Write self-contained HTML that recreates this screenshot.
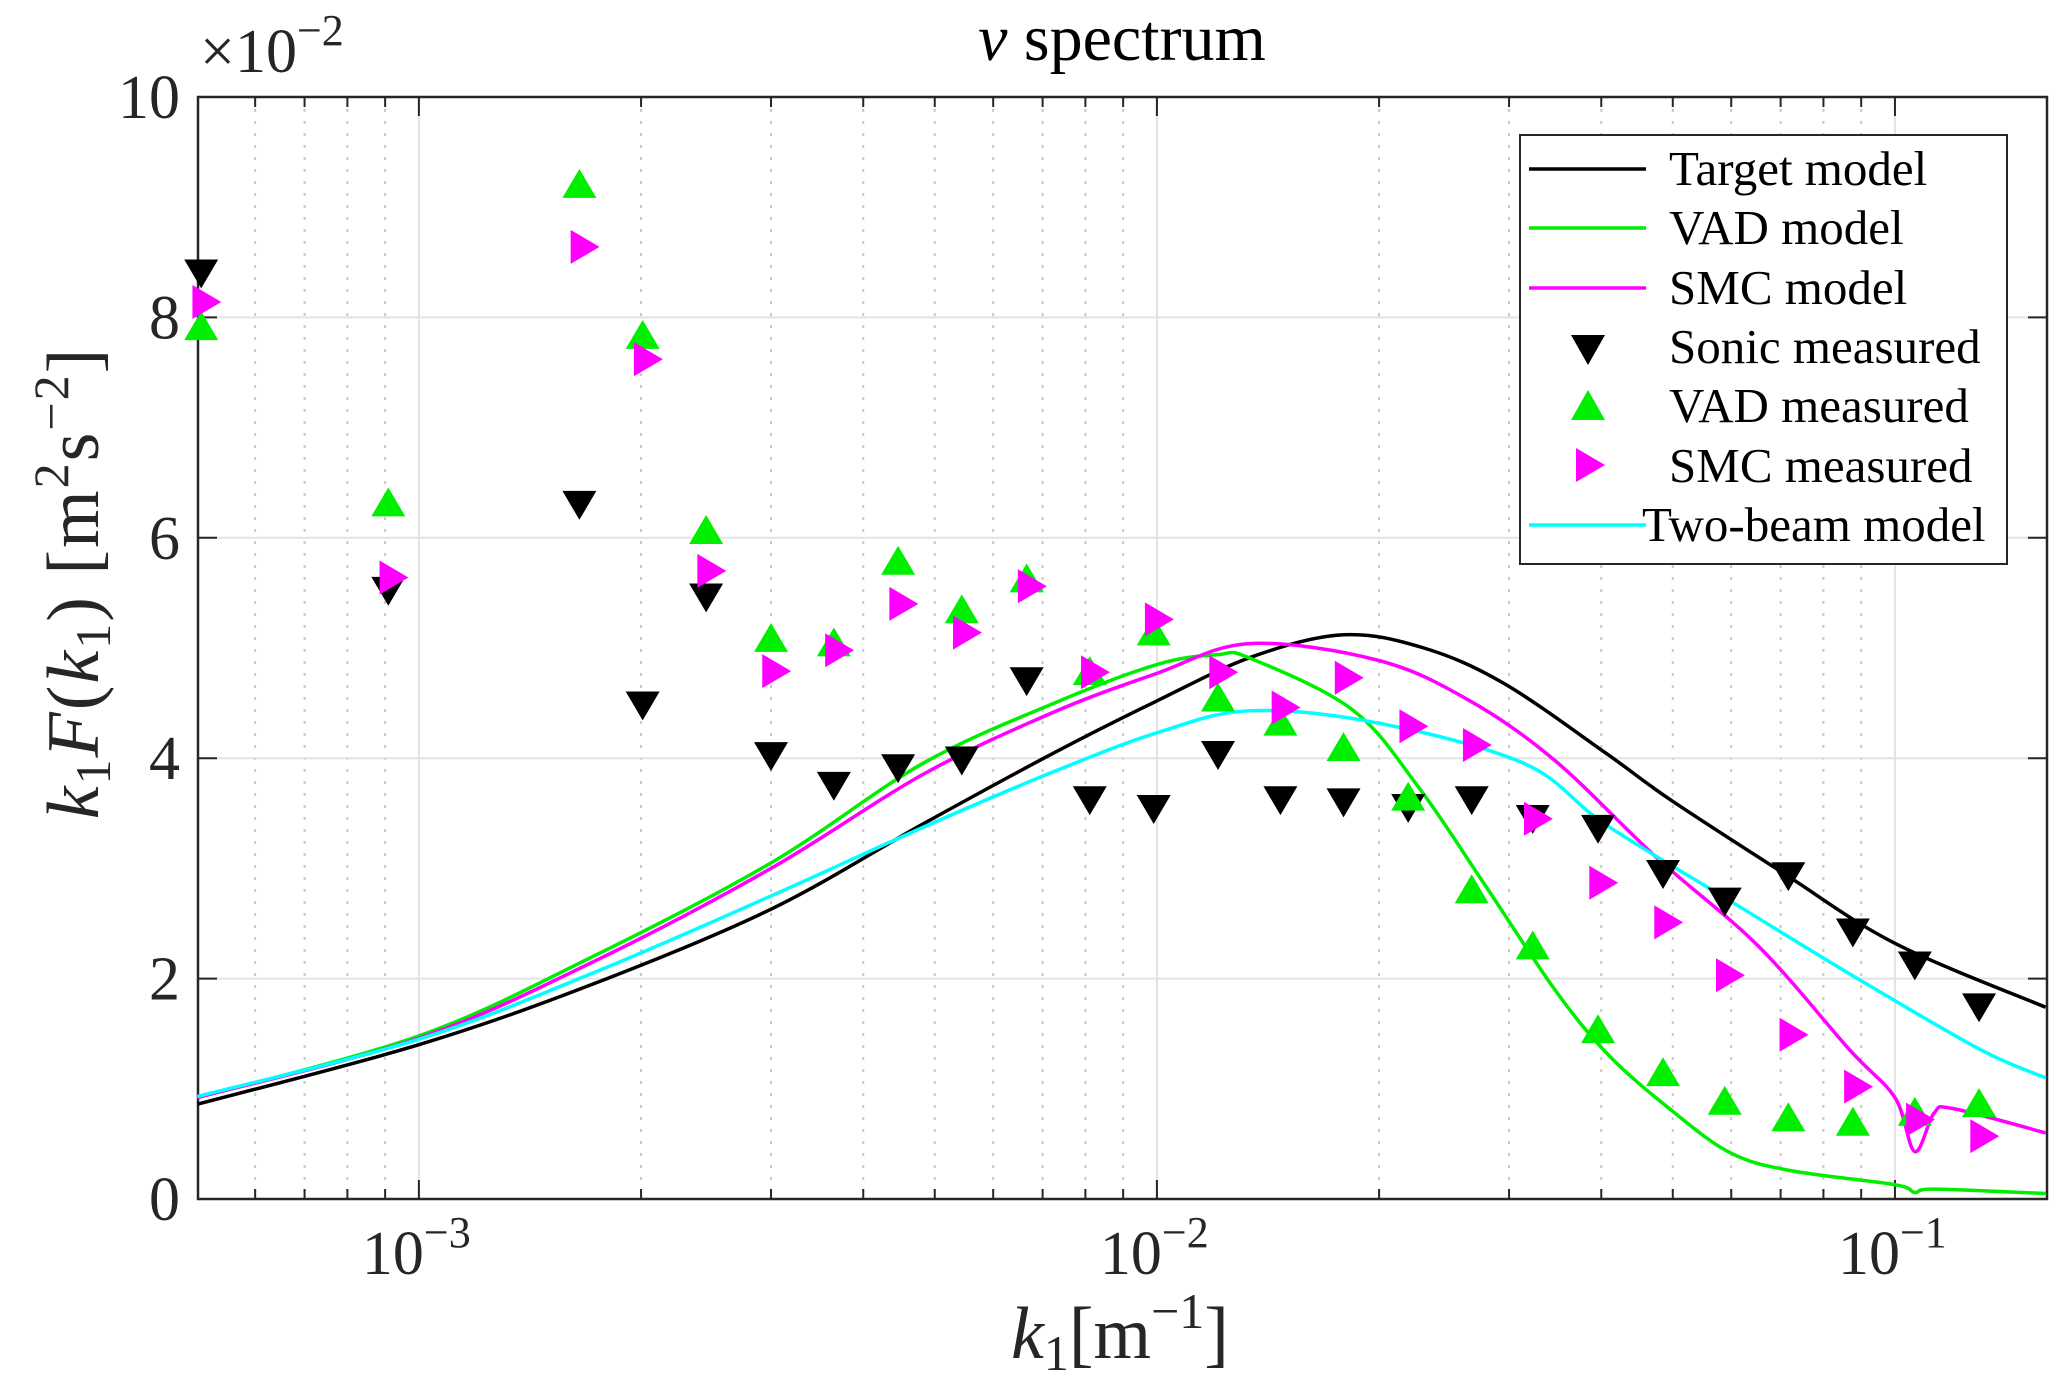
<!DOCTYPE html>
<html><head><meta charset="utf-8"><style>
html,body{margin:0;padding:0;background:#fff;}
svg{display:block;font-family:"Liberation Serif",serif;}
</style></head><body>
<svg id="chart" width="2067" height="1395" viewBox="0 0 2067 1395" xmlns="http://www.w3.org/2000/svg" style="position:absolute;left:0;top:0"></svg>
<script>
// ---- data ----
const kMeas = [5.07e-4,9.09e-4,1.65e-3,2.01e-3,2.45e-3,3.0e-3,3.65e-3,4.46e-3,5.44e-3,6.66e-3,8.11e-3,9.9e-3,1.21e-2,1.47e-2,1.79e-2,2.19e-2,2.67e-2,3.23e-2,3.96e-2,4.85e-2,5.88e-2,7.17e-2,8.77e-2,0.1064,0.130];
const sonicVals = [8.41,5.53,6.31,4.49,5.47,4.03,3.76,3.92,3.99,4.71,3.63,3.55,4.04,3.63,3.61,3.56,3.63,3.46,3.37,2.96,2.71,2.94,2.43,2.13,1.75];
const vadVals = [7.91,6.31,9.2,7.83,6.06,5.08,5.04,5.78,5.34,5.62,4.78,5.14,4.54,4.32,4.09,3.64,2.80,2.29,1.53,1.14,0.88,0.73,0.69,0.78,0.86];
const smcVals = [8.14,5.64,8.64,7.62,5.70,4.79,4.98,5.40,5.14,5.56,4.78,5.26,4.78,4.46,4.73,4.29,4.12,3.45,2.87,2.51,2.03,1.49,1.02,0.72,0.57];
const targetK = [5.01e-4,1e-3,1.72e-3,3.0e-3,4.81e-3,7.26e-3,1e-2,1.345e-2,1.79e-2,2.3e-2,2.95e-2,4.05e-2,4.97e-2,7.05e-2,0.1,0.16];
const targetVals = [0.86,1.40,1.95,2.63,3.4,4.05,4.52,4.92,5.12,5.0,4.68,4.05,3.62,2.96,2.32,1.74];
const vadK = [5.01e-4,1e-3,1.72e-3,3.0e-3,4.81e-3,7.26e-3,1e-2,1.21e-2,1.334e-2,1.84e-2,2.26e-2,2.77e-2,3.46e-2,4.1e-2,4.99e-2,5.98e-2,7.19e-2,0.1,0.1064,0.113,0.16];
const vadModelVals = [0.92,1.48,2.2,3.05,3.95,4.5,4.85,4.94,4.91,4.44,3.74,2.87,1.90,1.30,0.80,0.42,0.26,0.13,0.06,0.09,0.05];
const smcK = [5.01e-4,1e-3,1.72e-3,3.0e-3,4.81e-3,7.26e-3,1e-2,1.334e-2,1.99e-2,2.64e-2,3.46e-2,4.75e-2,6.54e-2,8.69e-2,0.1,0.1064,0.113,0.12,0.16];
const smcModelVals = [0.92,1.46,2.15,3.0,3.85,4.42,4.77,5.04,4.89,4.53,3.98,3.10,2.29,1.35,0.92,0.43,0.78,0.82,0.6];
const twoK = [5.01e-4,1e-3,1.72e-3,3.0e-3,4.81e-3,7.26e-3,1e-2,1.334e-2,1.99e-2,3.15e-2,4.05e-2,6.03e-2,8.95e-2,0.131,0.16];
const twoVals = [0.93,1.45,2.05,2.75,3.37,3.88,4.23,4.43,4.32,3.95,3.4,2.69,1.99,1.35,1.1];
const yTicks = [0,2,4,6,8,10];
const xDecades = [-3,-2,-1];

// ---- axes ----
const L=198,R=2047,T=97,B=1199;
const xmin=Math.log10(5.02e-4), xmax=Math.log10(0.1607);
const X=k=>L+(Math.log10(k)-xmin)/(xmax-xmin)*(R-L);
const Y=v=>B-(v/10)*(B-T);
const NS="http://www.w3.org/2000/svg";
const svg=document.getElementById('chart');
function mk(tag,attrs,parent){const e=document.createElementNS(NS,tag);for(const a in attrs)e.setAttribute(a,attrs[a]);(parent||svg).appendChild(e);return e;}

const grid=mk('g',{});


for(let d=-4;d<=-1;d++){for(let m=2;m<=9;m++){const k=m*Math.pow(10,d);if(k<5.02e-4||k>0.1607)continue;const x=X(k);
 mk('line',{x1:x,x2:x,y1:T,y2:B,stroke:'#c8c8c8','stroke-width':2,'stroke-dasharray':'3 9'},grid);
 mk('line',{x1:x,x2:x,y1:B,y2:B-10,stroke:'#262626','stroke-width':2},grid);
 mk('line',{x1:x,x2:x,y1:T,y2:T+10,stroke:'#262626','stroke-width':2},grid);}}
xDecades.forEach(d=>{const x=X(Math.pow(10,d));
 mk('line',{x1:x,x2:x,y1:T,y2:B,stroke:'#e3e3e3','stroke-width':2},grid);
 mk('line',{x1:x,x2:x,y1:B,y2:B-19,stroke:'#262626','stroke-width':2},grid);
 mk('line',{x1:x,x2:x,y1:T,y2:T+19,stroke:'#262626','stroke-width':2},grid);
 const t=mk('text',{x:x-57,y:1274,'font-size':62,fill:'#262626'});
 
 
 t.innerHTML='10<tspan dy="-27" font-size="44">\u2212'+(-d)+'</tspan>';
});
yTicks.forEach(v=>{const y=Y(v);
 if(v>0&&v<10)mk('line',{x1:L,x2:R,y1:y,y2:y,stroke:'#e3e3e3','stroke-width':2},grid);
 mk('line',{x1:L,x2:L+19,y1:y,y2:y,stroke:'#262626','stroke-width':2},grid);
 mk('line',{x1:R,x2:R-19,y1:y,y2:y,stroke:'#262626','stroke-width':2},grid);
 const t=mk('text',{x:180,y:y+21,'font-size':62,'text-anchor':'end',fill:'#262626'});
 
 
 t.textContent=v;
});
const box=mk('rect',{x:L,y:T,width:R-L,height:B-T,fill:'none',stroke:'#262626','stroke-width':2.5});



// ---- lines (Catmull-Rom smoothing) ----
function smooth(pts){let d='M'+pts[0][0]+','+pts[0][1];
 for(let i=0;i<pts.length-1;i++){const p0=pts[i-1]||pts[i],p1=pts[i],p2=pts[i+1],p3=pts[i+2]||p2;
  const c1=[p1[0]+(p2[0]-p0[0])/6,p1[1]+(p2[1]-p0[1])/6],c2=[p2[0]-(p3[0]-p1[0])/6,p2[1]-(p3[1]-p1[1])/6];
  d+=` C${c1[0]},${c1[1]} ${c2[0]},${c2[1]} ${p2[0]},${p2[1]}`;}
 return d;}
function line(ks,vs,color,name){const p=mk('path',{d:smooth(ks.map((k,i)=>[X(k),Y(vs[i])])),fill:'none',stroke:color,'stroke-width':3.5,'stroke-linejoin':'round'});
 
 }
line(targetK,targetVals,'#000','target-model-line');
line(vadK,vadModelVals,'#00ee00','vad-model-line');
line(smcK,smcModelVals,'#ff00ff','smc-model-line');
line(twoK,twoVals,'#00ffff','two-beam-model-line');

// ---- markers ----
const s=17;
function tri(x,y,type){if(type==='down')return `${x-s},${y-s*0.75} ${x+s},${y-s*0.75} ${x},${y+s*0.95}`;
 if(type==='up')return `${x-s},${y+s*0.75} ${x+s},${y+s*0.75} ${x},${y-s*0.95}`;
 return `${x-s*0.75},${y-s} ${x-s*0.75},${y+s} ${x+s*0.95},${y}`;}
function markers(vs,type,color,name){const g=mk('g',{});
 
 
 vs.forEach((v,i)=>{const pt=mk('polygon',{points:tri(X(kMeas[i])+(type==='right'?4:0),Y(v),type),fill:color},g);
  
  });}
markers(sonicVals,'down','#000','sonic-measured');
markers(vadVals,'up','#00ee00','vad-measured');
markers(smcVals,'right','#ff00ff','smc-measured');
</script>
<svg style="position:absolute;left:0;top:0" width="2067" height="1395">
<g font-family="Liberation Serif, serif" fill="#262626">
<text x="200" y="72" font-size="62">×10<tspan dy="-27" font-size="44">−2</tspan></text>
<text x="1122" y="60" font-size="66" text-anchor="middle" fill="#000"><tspan font-style="italic">v</tspan> spectrum</text>
<text x="1120" y="1358" font-size="74" text-anchor="middle" fill="#262626"><tspan font-style="italic">k</tspan><tspan font-size="50" dy="12">1</tspan><tspan dy="-12">[m</tspan><tspan font-size="50" dy="-30">−1</tspan><tspan dy="30">]</tspan></text>
<text transform="translate(98,583) rotate(-90)" font-size="74" text-anchor="middle" letter-spacing="2"><tspan font-style="italic">k</tspan><tspan font-size="50" dy="12">1</tspan><tspan font-style="italic" dy="-12">F</tspan>(<tspan font-style="italic">k</tspan><tspan font-size="50" dy="12">1</tspan><tspan dy="-12">) [m</tspan><tspan font-size="50" dy="-30">2</tspan><tspan dy="30">s</tspan><tspan font-size="50" dy="-30">−2</tspan><tspan dy="30">]</tspan></text>
</g>
<g>
<rect x="1520" y="135" width="487" height="429" fill="#fff" stroke="#262626" stroke-width="2"/>
<g font-family="Liberation Serif, serif" font-size="49" fill="#000">
<line x1="1529" x2="1646" y1="169" y2="169" stroke="#000" stroke-width="3.5"/><text x="1669" y="185">Target model</text>
<line x1="1529" x2="1646" y1="228" y2="228" stroke="#00ee00" stroke-width="3.5"/><text x="1669" y="244">VAD model</text>
<line x1="1529" x2="1646" y1="288" y2="288" stroke="#ff00ff" stroke-width="3.5"/><text x="1669" y="304">SMC model</text>
<polygon points="1571,335 1605,335 1588,365" fill="#000"/><text x="1669" y="363">Sonic measured</text>
<polygon points="1571,420 1605,420 1588,390" fill="#00ee00"/><text x="1669" y="422">VAD measured</text>
<polygon points="1576,448 1576,482 1605,465" fill="#ff00ff"/><text x="1669" y="482">SMC measured</text>
<line x1="1529" x2="1646" y1="525" y2="525" stroke="#00ffff" stroke-width="3.5"/><text x="1642" y="541">Two-beam model</text>
</g></g>
</svg>
</body></html>
